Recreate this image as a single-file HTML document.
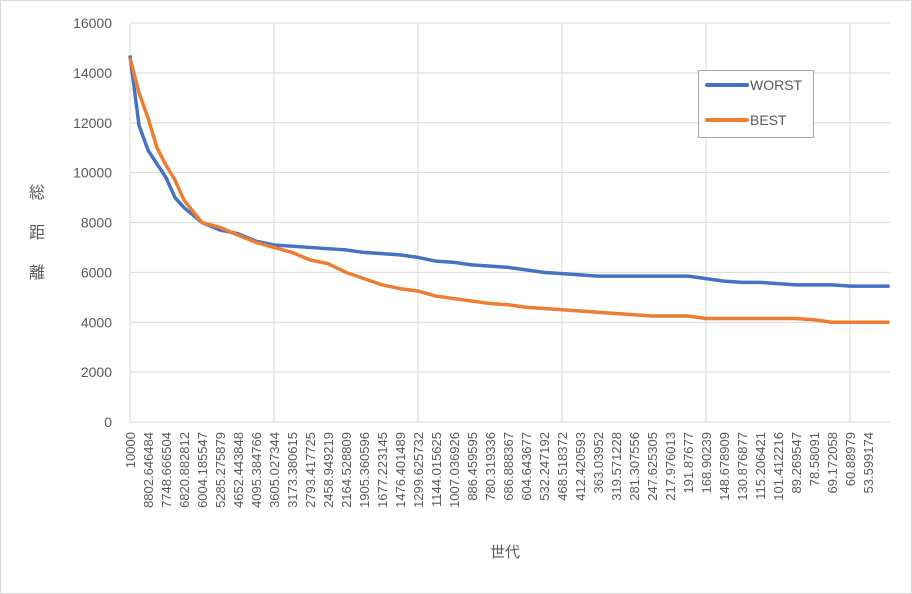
<!DOCTYPE html>
<html><head><meta charset="utf-8"><style>
html,body{margin:0;padding:0;background:#fff}
svg{display:block}
text{font-family:"Liberation Sans","Noto Sans CJK JP",sans-serif;fill:#595959}
</style></head><body>
<svg id="chart" width="912" height="594" xmlns="http://www.w3.org/2000/svg">
<rect x="0.5" y="0.5" width="911" height="593" fill="#fff" stroke="#d9d9d9"/>
<g id="grid"></g><g id="xlabels"></g><g id="ylabels"></g><g id="series"></g>
<text font-size="16" text-anchor="middle"><tspan x="37" y="198">総</tspan><tspan x="37" y="238">距</tspan><tspan x="37" y="278">離</tspan></text>
<text x="505" y="557" font-size="15" text-anchor="middle">世代</text>
<g>
<rect x="698.5" y="70.5" width="115" height="67" fill="#fff" stroke="#a6a6a6"/>
<line x1="707" y1="85" x2="747" y2="85" stroke="#4472c4" stroke-width="4" stroke-linecap="round"/>
<text x="750" y="90" font-size="14">WORST</text>
<line x1="707" y1="120" x2="747" y2="120" stroke="#ed7d31" stroke-width="4" stroke-linecap="round"/>
<text x="750" y="125" font-size="14">BEST</text>
</g>
</svg>
<script>
const xLabels=["10000","8802.646484","7748.666504","6820.882812","6004.185547","5285.275879","4652.443848","4095.384766","3605.027344","3173.380615","2793.417725","2458.949219","2164.528809","1905.360596","1677.223145","1476.401489","1299.625732","1144.015625","1007.036926","886.459595","780.319336","686.888367","604.643677","532.247192","468.518372","412.420593","363.03952","319.571228","281.307556","247.625305","217.976013","191.87677","168.90239","148.678909","130.876877","115.206421","101.412216","89.269547","78.58091","69.172058","60.88979","53.599174"];
const yTicks=[0,2000,4000,6000,8000,10000,12000,14000,16000];
const worstX=[0,0.5,1,2,2.5,3,4,5,6,7,8,9,10,11,12,13,14,15,16,17,18,19,20,21,22,23,24,25,26,31,32,33,34,35,36,37,38,39,40,41,42.2];
const worstY=[14700,11900,10900,9800,9000,8600,8000,7700,7550,7250,7100,7050,7000,6950,6900,6800,6750,6700,6600,6450,6400,6300,6250,6200,6100,6000,5950,5900,5850,5850,5750,5650,5600,5600,5550,5500,5500,5500,5450,5450,5450];
const bestX=[0,0.5,1,1.5,2,2.5,3,4,5,6,7,8,9,10,11,12,13,14,15,16,17,18,19,20,21,22,23,24,25,26,27,28,29,31,32,37,38,39,42.2];
const bestY=[14600,13200,12200,11000,10300,9700,8900,8000,7800,7500,7200,7000,6800,6500,6350,6000,5750,5500,5350,5250,5050,4950,4850,4750,4700,4600,4550,4500,4450,4400,4350,4300,4250,4250,4150,4150,4100,4000,4000];
const X0=130,DX=18,Y0=422,YK=(422-23)/16000,XR=890;
const sx=i=>X0+i*DX, sy=v=>Y0-v*YK;
const NS="http://www.w3.org/2000/svg";
function mk(t,a,p){const e=document.createElementNS(NS,t);for(const k in a)e.setAttribute(k,a[k]);p.appendChild(e);return e;}
const grid=document.getElementById('grid');
yTicks.forEach(v=>{const l=mk('line',{x1:X0,x2:XR,y1:sy(v),y2:sy(v),stroke:'#d9d9d9','stroke-width':1},grid);


const t=mk('text',{x:112,y:sy(v)+5,'font-size':14,'text-anchor':'end'},document.getElementById('ylabels'));t.textContent=v;

});
for(let i=0;i<xLabels.length;i+=8){const l=mk('line',{x1:sx(i),x2:sx(i),y1:sy(16000),y2:Y0,stroke:'#d9d9d9','stroke-width':1},grid);

}
xLabels.forEach((s,i)=>{const x=sx(i)+5,y=432;const t=mk('text',{x:x,y:y,'font-size':13,'text-anchor':'end',transform:`rotate(-90 ${x} ${y})`},document.getElementById('xlabels'));t.textContent=s;

});
function draw(xs,ys,c,n){const p=mk('polyline',{points:xs.map((x,i)=>sx(x)+','+sy(ys[i])).join(' '),fill:'none',stroke:c,'stroke-width':3.5,'stroke-linejoin':'round'},document.getElementById('series'));

}
draw(worstX,worstY,'#4472c4','worst-line');
draw(bestX,bestY,'#ed7d31','best-line');
</script>
</body></html>
